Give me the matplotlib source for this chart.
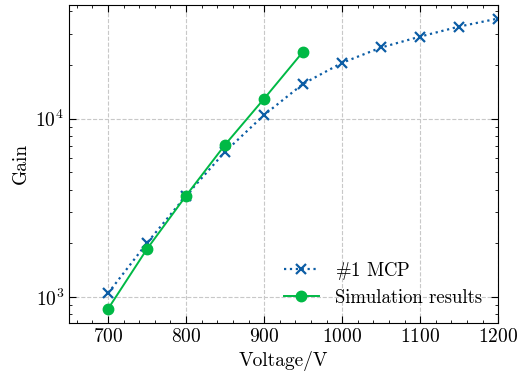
import matplotlib
matplotlib.use('Agg')
import matplotlib.pyplot as plt

voltage_mcp = [700, 750, 800, 850, 900, 950, 1000, 1050, 1100, 1150, 1200]
gain_mcp = [1050, 2010, 3700, 6530, 10500, 15700, 20600, 25100, 28900, 32900, 36500]
voltage_sim = [700, 750, 800, 850, 900, 950]
gain_sim = [857, 1860, 3700, 7150, 12950, 23800]

plt.rcParams['font.family'] = 'serif'
plt.rcParams['font.serif'] = ['cmr10']
plt.rcParams['mathtext.fontset'] = 'cm'
plt.rcParams['axes.formatter.use_mathtext'] = True
plt.rcParams['font.size'] = 14
plt.rcParams['xtick.direction'] = 'in'
plt.rcParams['ytick.direction'] = 'in'
plt.rcParams['xtick.top'] = True
plt.rcParams['ytick.right'] = True
plt.rcParams['xtick.minor.visible'] = True
plt.rcParams['ytick.minor.visible'] = True
plt.rcParams['xtick.major.size'] = 5
plt.rcParams['ytick.major.size'] = 5
plt.rcParams['xtick.minor.size'] = 2.5
plt.rcParams['ytick.minor.size'] = 2.5
plt.rcParams['axes.linewidth'] = 0.8

fig, ax = plt.subplots(figsize=(5.19, 3.79), dpi=100)
ax.plot(voltage_mcp, gain_mcp, ls=':', marker='x', color='#0C5DA5', lw=1.6,
        ms=7, mew=1.6, label=r'$\#1$ MCP')
ax.plot(voltage_sim, gain_sim, ls='-', marker='o', color='#00B945', lw=1.4,
        ms=7.5, label='Simulation results')
ax.set_yscale('log')
ax.set_xlim(650, 1200)
ax.set_ylim(715, 43500)
ax.set_xticks([700, 800, 900, 1000, 1100, 1200])
ax.set_xlabel('Voltage/V')
ax.set_ylabel('Gain')
ax.grid(True, which='major', ls='--', color='#c8c8c8', lw=0.8)
ax.legend(loc='lower right', frameon=False, fontsize=13.5, handlelength=1.9,
          borderaxespad=0.45, handletextpad=0.85, labelspacing=0.4)
fig.subplots_adjust(left=0.133, right=0.96, top=0.987, bottom=0.148)
fig.savefig('out.png', dpi=100)
